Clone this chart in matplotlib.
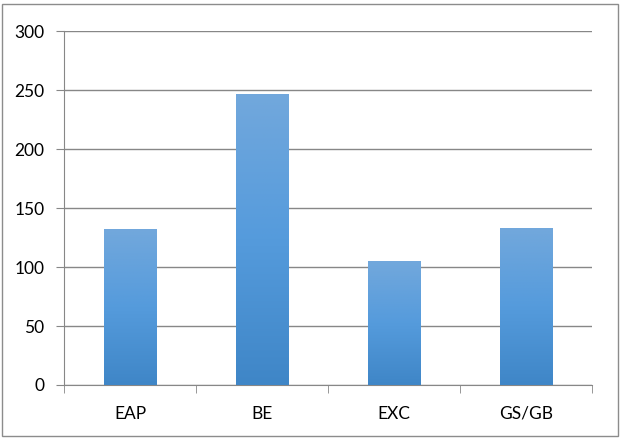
import matplotlib.pyplot as plt
import numpy as np
from matplotlib.colors import LinearSegmentedColormap
from matplotlib.patches import Rectangle

# %% Data
categories = ["EAP", "BE", "EXC", "GS/GB"]
values = [132, 247, 105, 133]
y_ticks = [0, 50, 100, 150, 200, 250, 300]

# %% Figure
plt.rcParams["font.family"] = ["Lato", "DejaVu Sans"]
fig = plt.figure(figsize=(6.2, 4.44), dpi=100)
fig.patches.append(
    Rectangle((0.004, 0.018), 0.992, 0.972, transform=fig.transFigure,
              fill=False, edgecolor="#8c8c8c", linewidth=1.0)
)
ax = fig.add_axes([0.1032, 0.1329, 0.8516, 0.7971])

x = np.arange(len(categories))
bars = ax.bar(x, values, width=0.4, color="#5b9bd5", zorder=2)

# vertical gradient inside each bar, lighter at top
grad = LinearSegmentedColormap.from_list("bar", ["#3f86c7", "#559bdc", "#72a8dc"])
for b in bars:
    bx, by = b.get_x(), b.get_y()
    w, h = b.get_width(), b.get_height()
    img = ax.imshow(np.linspace(0, 1, 256).reshape(-1, 1), cmap=grad,
                    extent=[bx, bx + w, by, by + h], origin="lower",
                    aspect="auto", zorder=3)
    img.set_clip_path(b)

ax.set_xlim(-0.5, len(categories) - 0.5)
ax.set_ylim(0, 300)
ax.set_yticks(y_ticks)
ax.set_xticks(x)
ax.set_xticklabels(categories)
ax.set_xticks(np.arange(len(categories) + 1) - 0.5, minor=True)

ax.grid(axis="y", color="#878787", linewidth=1.0, zorder=0)
for side in ["top", "right"]:
    ax.spines[side].set_visible(False)
ax.spines["left"].set_color("#878787")
ax.spines["bottom"].set_color("#878787")

ax.tick_params(axis="y", length=6, color="#878787", labelsize=12.5, pad=8)
ax.tick_params(axis="x", which="major", length=0, labelsize=12.5, pad=15)
ax.tick_params(axis="x", which="minor", length=6, color="#878787")

fig.savefig("out.png", dpi=100)
